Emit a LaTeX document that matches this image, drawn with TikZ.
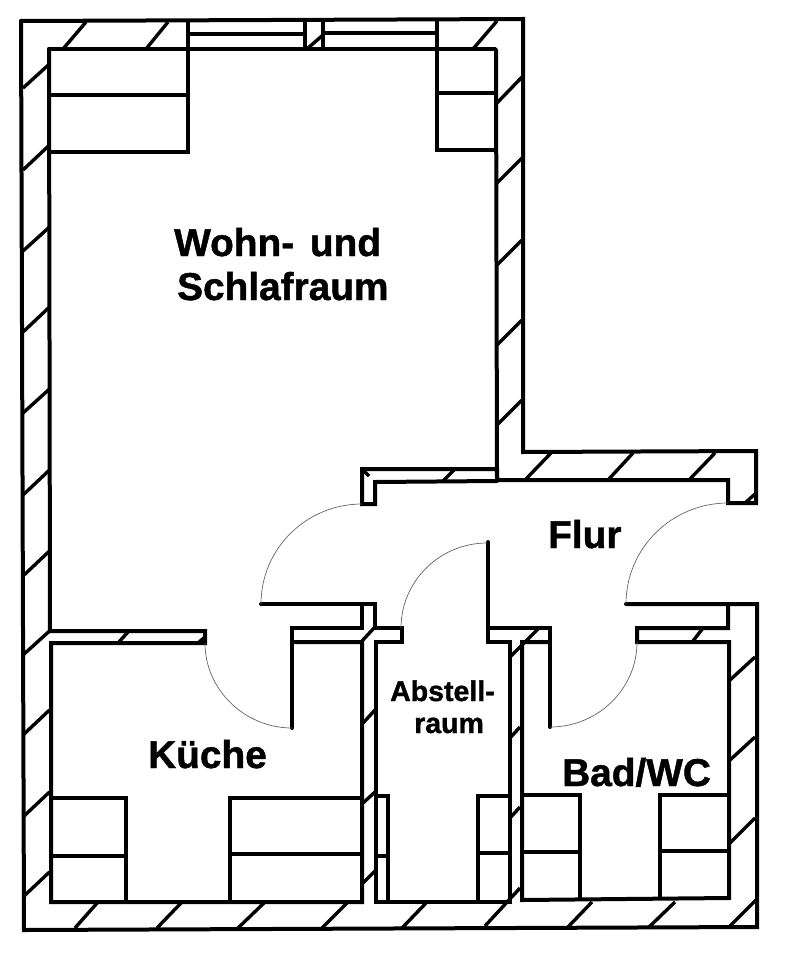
\documentclass[tikz,border=0pt]{standalone}
\usepackage{fontspec}
\setmainfont[BoldFeatures={FakeBold=1.2}]{Liberation Sans}
\tikzset{
  wall/.style={line width=4pt,line join=miter,line cap=round,black},
  fitting/.style={line width=3.6pt,line join=miter,line cap=butt,black},
  hatch/.style={line width=3.4pt,line cap=butt,black},
  swing/.style={line width=0.7pt,black!60},
  bigroom/.style={font=\bfseries\fontsize{38.8pt}{43pt}\selectfont,anchor=base west,inner sep=0pt,black},
  smallroom/.style={font=\bfseries\fontsize{28.5pt}{32pt}\selectfont,anchor=base west,inner sep=0pt,black}
}
\begin{document}
\begin{tikzpicture}[x=1pt,y=-1pt]
\useasboundingbox (0,0) rectangle (785,960);
\fill[white] (0,0) rectangle (785,960);
% outer wall
\draw[wall] (21,21)--(523,19)--(523,452)--(756,451)--(756,503)--(728,503)--(728,480)--(497,480)--(497,469)--(362,469)--(362,504)--(375,504)--(375,482)--(497,481);
\draw[wall] (626,604)--(757,604)--(757,927)--(24,930)--(21,21);
\draw[wall] (496,50)--(497,480);
% main room
\draw[wall] (49,49)--(495,49);
\draw[wall] (49,49)--(50,631)--(205,631)--(205,643)--(51,643)--(51,902)--(362,902)--(362,642)--(292,642);
\draw[wall] (261,604)--(375,604)--(375,628)--(402,628)--(402,642)--(376,642)--(376,902)--(510,902)--(510,642)--(488,642)--(488,542);
\draw[wall] (362,604)--(362,628)--(292,628)--(292,728);
\draw[wall] (488,628)--(550,628)--(550,727);
\draw[wall] (550,642)--(522,642)--(522,900)--(729,898)--(729,642)--(637,642)--(637,628)--(728,628)--(728,604);
% window and fittings
\draw[fitting] (188,20)--(188,152)--(49,152) (188,95)--(49,95);
\draw[fitting] (305,20)--(305,49) (323,20)--(323,49) (188,34)--(305,34) (323,33)--(437,33);
\draw[fitting] (437,20)--(437,150)--(495,150) (437,93)--(495,93);
\draw[fitting] (51,798)--(126,798)--(126,902) (51,856)--(126,856);
\draw[fitting] (362,798)--(230,798)--(230,902) (230,854)--(362,854);
\draw[fitting] (376,796)--(388,796)--(388,902) (376,856)--(388,856);
\draw[fitting] (508,796)--(478,796)--(478,902) (478,853)--(508,853);
\draw[fitting] (522,795)--(580,795)--(580,899) (522,852)--(580,852);
\draw[fitting] (729,795)--(660,795)--(660,898) (660,851)--(729,851);
% door swings
\draw[swing] (362,504) .. controls (306.5,504) and (261,548.5) .. (261,604);
\draw[swing] (401,628) .. controls (401,581) and (440,543) .. (487,543);
\draw[swing] (728,503) .. controls (672,503) and (626,548) .. (626,604);
\draw[swing] (550,727) .. controls (598,727) and (637,689) .. (637,642);
\draw[swing] (205,643) .. controls (205,690) and (245,728) .. (292,728);
% hatching: left wall
\foreach \a/\b in {64/88,145/170,227/251,307/332,389/413,470/495,551/576,631/655,710/735,792/817,872/897}
  \draw[hatch] (49.5,\a)--(23,\b);
% hatching: right wall of main room
\foreach \a/\b in {77/103,158/183,240/265,320/345,400/425}
  \draw[hatch] (522,\a)--(497,\b);
% hatching: top
\draw[hatch] (86,22)--(63,49) (168,22)--(146,49) (497,21)--(473,49) (323,35)--(308,48);
% hatching: bottom
\foreach \a/\b in {98/75,182/157,265/238,348/322,427/402,592/567,675/648}
  \draw[hatch] (\a,902)--(\b,928);
\draw[hatch] (520,888)--(485,926) (756,900)--(730,926);
% hatching: right wall of bath
\foreach \a/\b in {657/680,737/760,818/843}
  \draw[hatch] (755,\a)--(730,\b);
% hatching: hall
\draw[hatch] (551,453)--(525,480) (633,453)--(608,480) (715,453)--(689,480) (454,470)--(443,481);
\draw[hatch] (755,494)--(745,503) (362,469)--(369,476);
% hatching: inner walls
\draw[hatch] (128,632)--(118,643) (205,637)--(198,643) (374,628)--(362,641);
\foreach \a/\b in {710/723,792/803,871/883}
  \draw[hatch] (375,\a)--(363,\b);
\draw[hatch] (539,628)--(510,657) (520,727)--(510,738) (520,807)--(510,818) (703,628)--(693,641);
% labels
\node[bigroom] (wohn) at (174,256) {Wohn-\hspace{5pt} und};
\node[bigroom] (schlaf) at (177,300) {Schlafraum};
\node[bigroom] (flur) at (548,548) {Flur};
\node[bigroom] (kueche) at (148,768) {Küche};
\node[bigroom] (bad) at (562,786) {Bad/WC};
\node[smallroom] (abstell) at (390,701) {Abstell-};
\node[smallroom] (raum) at (414,733) {raum};
\end{tikzpicture}
\end{document}
